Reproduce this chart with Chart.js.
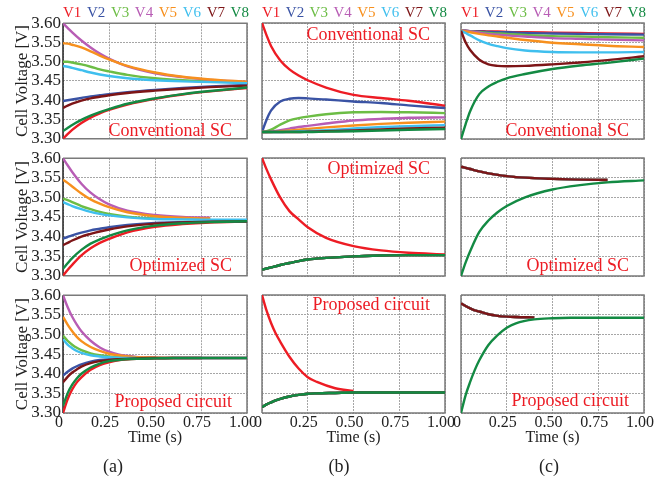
<!DOCTYPE html>
<html>
<head>
<meta charset="utf-8">
<script src="https://cdn.jsdelivr.net/npm/chart.js@4.4.1/dist/chart.umd.min.js"></script>
<style>
  html, body { margin: 0; padding: 0; background: #fff; }
  #fig { position: relative; width: 667px; height: 491px; overflow: hidden; font-family: "Liberation Serif", "Times New Roman", serif; }
  #fig canvas { position: absolute; }
  .legend { position: absolute; top: 5px; display: flex; justify-content: space-between; font-size: 15px; line-height: 15px; }
  .sub { position: absolute; top: 456px; width: 40px; margin-left: -20px; text-align: center; font-size: 18px; line-height: 20px; color: #222; }
</style>
</head>
<body>
<div id="fig"></div>
<script>
// series + axis labels
const seriesNames = ["V1", "V2", "V3", "V4", "V5", "V6", "V7", "V8"];
const seriesColors = ["#ed1c24", "#3a53a4", "#6cbd45", "#b85db5", "#f7901e", "#3fbfee", "#7d1517", "#138a43"];
const xTickValues = [0, 0.25, 0.5, 0.75, 1.0];
const xTickLabels = ["0", "0.25", "0.50", "0.75", "1.00"];
const yTickValues = [3.30, 3.35, 3.40, 3.45, 3.50, 3.55, 3.60];
const yTickLabels = ["3.30", "3.35", "3.40", "3.45", "3.50", "3.55", "3.60"];
const panelLetters = ["(a)", "(b)", "(c)"];

// sample times (s)
const tRow1 = [0, 0.025, 0.05, 0.1, 0.15, 0.2, 0.25, 0.35, 0.5, 0.65, 0.8, 1.0];
const tRow2 = [0, 0.025, 0.05, 0.1, 0.15, 0.2, 0.25, 0.35, 0.5, 0.65, 0.8, 1.0];
const tRow3 = [0, 0.025, 0.05, 0.075, 0.1, 0.15, 0.2, 0.25, 0.3, 0.4, 0.5, 0.6, 0.75, 1.0];

// Conventional SC, V1..V8
const convA = [
  [3.300, 3.312, 3.323, 3.341, 3.355, 3.366, 3.375, 3.389, 3.404, 3.415, 3.423, 3.432],
  [3.398, 3.400, 3.402, 3.406, 3.410, 3.413, 3.416, 3.421, 3.427, 3.432, 3.436, 3.440],
  [3.500, 3.500, 3.498, 3.493, 3.487, 3.480, 3.475, 3.466, 3.457, 3.452, 3.449, 3.446],
  [3.600, 3.588, 3.576, 3.555, 3.537, 3.521, 3.508, 3.488, 3.470, 3.460, 3.453, 3.448],
  [3.548, 3.547, 3.544, 3.537, 3.527, 3.516, 3.506, 3.489, 3.472, 3.461, 3.454, 3.448],
  [3.489, 3.487, 3.484, 3.478, 3.472, 3.467, 3.463, 3.457, 3.452, 3.449, 3.447, 3.444],
  [3.380, 3.386, 3.391, 3.399, 3.405, 3.409, 3.413, 3.419, 3.425, 3.430, 3.434, 3.438],
  [3.320, 3.328, 3.336, 3.349, 3.360, 3.369, 3.377, 3.391, 3.405, 3.416, 3.424, 3.433],
];
const convB = [
  [3.600, 3.568, 3.540, 3.503, 3.480, 3.464, 3.452, 3.433, 3.414, 3.406, 3.399, 3.386],
  [3.318, 3.350, 3.374, 3.397, 3.404, 3.406, 3.405, 3.402, 3.397, 3.393, 3.387, 3.380],
  [3.318, 3.320, 3.324, 3.337, 3.348, 3.354, 3.358, 3.364, 3.369, 3.370, 3.369, 3.367],
  [3.318, 3.318, 3.319, 3.323, 3.327, 3.331, 3.334, 3.340, 3.348, 3.352, 3.355, 3.356],
  [3.318, 3.318, 3.318, 3.320, 3.322, 3.324, 3.326, 3.330, 3.335, 3.339, 3.342, 3.345],
  [3.318, 3.318, 3.318, 3.318, 3.319, 3.320, 3.321, 3.323, 3.327, 3.331, 3.333, 3.336],
  [3.318, 3.318, 3.318, 3.318, 3.318, 3.318, 3.319, 3.320, 3.322, 3.325, 3.327, 3.329],
  [3.318, 3.318, 3.318, 3.318, 3.318, 3.318, 3.318, 3.319, 3.320, 3.322, 3.324, 3.326],
];
const convC = [
  [3.580, 3.580, 3.579, 3.579, 3.578, 3.578, 3.577, 3.576, 3.575, 3.574, 3.573, 3.572],
  [3.580, 3.580, 3.579, 3.578, 3.577, 3.576, 3.576, 3.574, 3.573, 3.572, 3.571, 3.570],
  [3.580, 3.579, 3.578, 3.576, 3.574, 3.573, 3.572, 3.569, 3.566, 3.565, 3.563, 3.562],
  [3.580, 3.579, 3.578, 3.575, 3.572, 3.570, 3.568, 3.565, 3.561, 3.559, 3.557, 3.555],
  [3.580, 3.578, 3.576, 3.572, 3.568, 3.565, 3.562, 3.556, 3.549, 3.545, 3.541, 3.538],
  [3.580, 3.574, 3.568, 3.555, 3.546, 3.540, 3.535, 3.529, 3.525, 3.524, 3.524, 3.525],
  [3.580, 3.550, 3.530, 3.505, 3.493, 3.489, 3.488, 3.489, 3.493, 3.498, 3.504, 3.514],
  [3.300, 3.338, 3.372, 3.416, 3.436, 3.448, 3.457, 3.468, 3.481, 3.490, 3.497, 3.508],
];

// Optimized SC
const optA = [
  [3.300, 3.315, 3.328, 3.352, 3.370, 3.384, 3.394, 3.411, 3.425, 3.432, 3.436, 3.438],
  [3.395, 3.399, 3.403, 3.410, 3.416, 3.420, 3.424, 3.430, 3.435, 3.437, 3.438, 3.439],
  [3.497, 3.493, 3.488, 3.478, 3.470, 3.463, 3.458, 3.451, 3.446, 3.445, 3.444],
  [3.600, 3.582, 3.565, 3.535, 3.512, 3.495, 3.482, 3.466, 3.455, 3.450, 3.448],
  [3.545, 3.537, 3.528, 3.510, 3.495, 3.484, 3.475, 3.462, 3.452, 3.448, 3.446],
  [3.488, 3.483, 3.478, 3.470, 3.463, 3.458, 3.454, 3.449, 3.445, 3.444, 3.443, 3.443],
  [3.378, 3.384, 3.390, 3.400, 3.407, 3.413, 3.418, 3.426, 3.433, 3.436, 3.438, 3.439],
  [3.318, 3.332, 3.345, 3.366, 3.382, 3.393, 3.402, 3.416, 3.428, 3.434, 3.437, 3.439],
];
const optBHigh = [3.600, 3.571, 3.545, 3.499, 3.465, 3.444, 3.424, 3.397, 3.376, 3.365, 3.359, 3.355];
const optBLow = [3.316, 3.319, 3.322, 3.328, 3.333, 3.338, 3.342, 3.346, 3.350, 3.352, 3.353, 3.353];
const optB = [optBHigh, optBLow, optBLow, optBLow, optBLow, optBLow, optBLow, optBLow];
const optCHigh = [3.578, 3.575, 3.572, 3.566, 3.561, 3.557, 3.554, 3.550, 3.547, 3.545, 3.544];
const optCLow = [3.300, 3.334, 3.363, 3.412, 3.441, 3.462, 3.478, 3.500, 3.520, 3.531, 3.538, 3.543];
const optC = [optCHigh, optCHigh, optCHigh, optCHigh, optCHigh, optCHigh, optCHigh, optCLow];

// Proposed circuit
const propA = [
  [3.300, 3.335, 3.360, 3.378, 3.391, 3.410, 3.422, 3.429, 3.434, 3.438, 3.439, 3.440, 3.440, 3.440],
  [3.395, 3.405, 3.413, 3.419, 3.424, 3.431, 3.435, 3.437, 3.438, 3.439, 3.440, 3.440, 3.440, 3.440],
  [3.497, 3.484, 3.474, 3.466, 3.460, 3.452, 3.447, 3.444, 3.442, 3.441, 3.440],
  [3.600, 3.570, 3.545, 3.525, 3.508, 3.484, 3.467, 3.456, 3.449, 3.443, 3.441],
  [3.545, 3.525, 3.508, 3.494, 3.483, 3.468, 3.458, 3.451, 3.447, 3.442, 3.441, 3.440],
  [3.488, 3.474, 3.465, 3.458, 3.453, 3.447, 3.444, 3.442, 3.441, 3.440],
  [3.378, 3.392, 3.403, 3.411, 3.418, 3.427, 3.432, 3.435, 3.437, 3.439, 3.440, 3.440, 3.440],
  [3.318, 3.350, 3.372, 3.388, 3.400, 3.416, 3.426, 3.432, 3.435, 3.438, 3.439, 3.440, 3.440, 3.440],
];
const propBHigh = [3.600, 3.560, 3.528, 3.502, 3.481, 3.443, 3.413, 3.391, 3.379, 3.363, 3.356];
const propBLow = [3.315, 3.322, 3.327, 3.332, 3.336, 3.342, 3.346, 3.349, 3.350, 3.351, 3.352, 3.352, 3.352, 3.352];
const propB = [propBHigh, propBLow, propBLow, propBLow, propBLow, propBLow, propBLow, propBLow];
const propCHigh = [3.579, 3.572, 3.566, 3.561, 3.558, 3.551, 3.547, 3.545, 3.544, 3.543];
const propCLow = [3.300, 3.345, 3.379, 3.409, 3.434, 3.473, 3.498, 3.517, 3.528, 3.538, 3.541, 3.542, 3.542, 3.542];
const propC = [propCHigh, propCHigh, propCHigh, propCHigh, propCHigh, propCHigh, propCHigh, propCLow];

// layout (plot areas in page pixels)
const columns = [{ left: 63, right: 247, letterX: 113 }, { left: 262, right: 445, letterX: 339 }, { left: 461, right: 644, letterX: 549 }];
const rows = [{ top: 23, bottom: 139 }, { top: 158, bottom: 276 }, { top: 295, bottom: 413 }];
const panels = [
  { col: 0, row: 0, times: tRow1, series: convA, note: "Conventional SC", at: "bottom", dy: 3 },
  { col: 1, row: 0, times: tRow1, series: convB, note: "Conventional SC", at: "top", dy: 17 },
  { col: 2, row: 0, times: tRow1, series: convC, note: "Conventional SC", at: "bottom", dy: 3 },
  { col: 0, row: 1, times: tRow2, series: optA, note: "Optimized SC", at: "bottom", dy: 5 },
  { col: 1, row: 1, times: tRow2, series: optB, note: "Optimized SC", at: "top", dy: 16 },
  { col: 2, row: 1, times: tRow2, series: optC, note: "Optimized SC", at: "bottom", dy: 5 },
  { col: 0, row: 2, times: tRow3, series: propA, note: "Proposed circuit", at: "bottom", dy: 6 },
  { col: 1, row: 2, times: tRow3, series: propB, note: "Proposed circuit", at: "top", dy: 15 },
  { col: 2, row: 2, times: tRow3, series: propC, note: "Proposed circuit", at: "bottom", dy: 7 },
];

const SERIF = "'Liberation Serif', 'Times New Roman', serif";

const framePlugin = {
  id: "frame",
  beforeDatasetsDraw(chart, args, opts) {
    const { left, right, top, bottom } = chart.chartArea;
    const ctx = chart.ctx;
    ctx.save();
    ctx.lineWidth = 1.5;
    ctx.strokeStyle = "#7a7a7a";
    ctx.beginPath();
    ctx.moveTo(left, top);
    ctx.lineTo(right, top);
    ctx.lineTo(right, bottom);
    ctx.lineTo(left, bottom);
    ctx.stroke();
    ctx.strokeStyle = opts.leftColor;
    ctx.beginPath();
    ctx.moveTo(left, top);
    ctx.lineTo(left, bottom);
    ctx.stroke();
    ctx.restore();
  },
};

const notePlugin = {
  id: "note",
  afterDatasetsDraw(chart, args, opts) {
    const { right, top, bottom } = chart.chartArea;
    const ctx = chart.ctx;
    ctx.save();
    ctx.font = "18px " + SERIF;
    ctx.fillStyle = "#ec1c24";
    ctx.textAlign = "right";
    ctx.textBaseline = "alphabetic";
    const y = opts.at === "top" ? top + opts.dy : bottom - opts.dy;
    ctx.fillText(opts.text, right - 15, y);
    ctx.restore();
  },
};

const fig = document.getElementById("fig");

panels.forEach((p) => {
  const c = columns[p.col];
  const r = rows[p.row];
  const first = p.col === 0;
  const last = p.row === 2;
  const padL = first ? 0 : 10;
  const cLeft = first ? 0 : c.left - padL;
  const cTop = r.top - 12;
  const cWidth = c.right + 20 - cLeft;
  const cHeight = (last ? 447 : r.bottom + 12) - cTop;

  const canvas = document.createElement("canvas");
  canvas.width = cWidth;
  canvas.height = cHeight;
  canvas.style.left = cLeft + "px";
  canvas.style.top = cTop + "px";
  canvas.style.width = cWidth + "px";
  canvas.style.height = cHeight + "px";
  fig.appendChild(canvas);

  new Chart(canvas.getContext("2d"), {
    type: "line",
    data: {
      datasets: p.series.map((vals, i) => ({
        label: seriesNames[i],
        data: vals.map((v, k) => ({ x: p.times[k], y: v })),
        borderColor: seriesColors[i],
        borderWidth: 2.4,
        pointRadius: 0,
        fill: false,
        cubicInterpolationMode: "monotone",
        order: seriesNames.length - i,
      })),
    },
    options: {
      responsive: false,
      animation: false,
      events: [],
      layout: { padding: { left: padL, right: 20, top: 12, bottom: last ? 0 : 12 } },
      plugins: {
        legend: { display: false },
        tooltip: { enabled: false },
        frame: { leftColor: first ? "#222" : "#7a7a7a" },
        note: { text: p.note, at: p.at, dy: p.dy },
      },
      scales: {
        x: {
          type: "linear",
          min: 0,
          max: 1.0,
          afterBuildTicks: (s) => { s.ticks = xTickValues.map((v) => ({ value: v })); },
          afterFit: (s) => { s.height = last ? 34 : 0; },
          grid: { color: "#a6a6a6", lineWidth: 1, drawTicks: false },
          border: { display: false, dash: [2, 1] },
          ticks: {
            display: last,
            autoSkip: false,
            maxRotation: 0,
            padding: 0,
            labelOffset: -4,
            color: "#222",
            font: { family: SERIF, size: 16 },
            callback: (v, i) => xTickLabels[i],
          },
          title: {
            display: last,
            text: "Time (s)",
            color: "#222",
            padding: { top: 0, bottom: 0 },
            font: { family: SERIF, size: 16 },
          },
        },
        y: {
          min: 3.3,
          max: 3.6,
          afterBuildTicks: (s) => { s.ticks = yTickValues.map((v) => ({ value: v })); },
          afterFit: (s) => { s.width = first ? 63 : 0; },
          grid: { color: "#a6a6a6", lineWidth: 1, drawTicks: false },
          border: { display: false, dash: [2, 1] },
          ticks: {
            display: first,
            autoSkip: false,
            padding: 2,
            color: "#222",
            font: { family: SERIF, size: 17 },
            callback: (v, i) => yTickLabels[i],
          },
          title: {
            display: first,
            text: "Cell Voltage [V]",
            color: "#222",
            padding: { top: 12, bottom: 0 },
            font: { family: SERIF, size: 17 },
          },
        },
      },
    },
    plugins: [framePlugin, notePlugin],
  });
});

// colored series names above each column, and (a)/(b)/(c) captions
columns.forEach((c, ci) => {
  const lg = document.createElement("div");
  lg.className = "legend";
  lg.style.left = c.left + "px";
  lg.style.width = (c.right - c.left + 2) + "px";
  seriesNames.forEach((n, i) => {
    const s = document.createElement("span");
    s.textContent = n;
    s.style.color = seriesColors[i];
    lg.appendChild(s);
  });
  fig.appendChild(lg);

  const sub = document.createElement("div");
  sub.className = "sub";
  sub.style.left = c.letterX + "px";
  sub.textContent = panelLetters[ci];
  fig.appendChild(sub);
});
</script>
</body>
</html>
